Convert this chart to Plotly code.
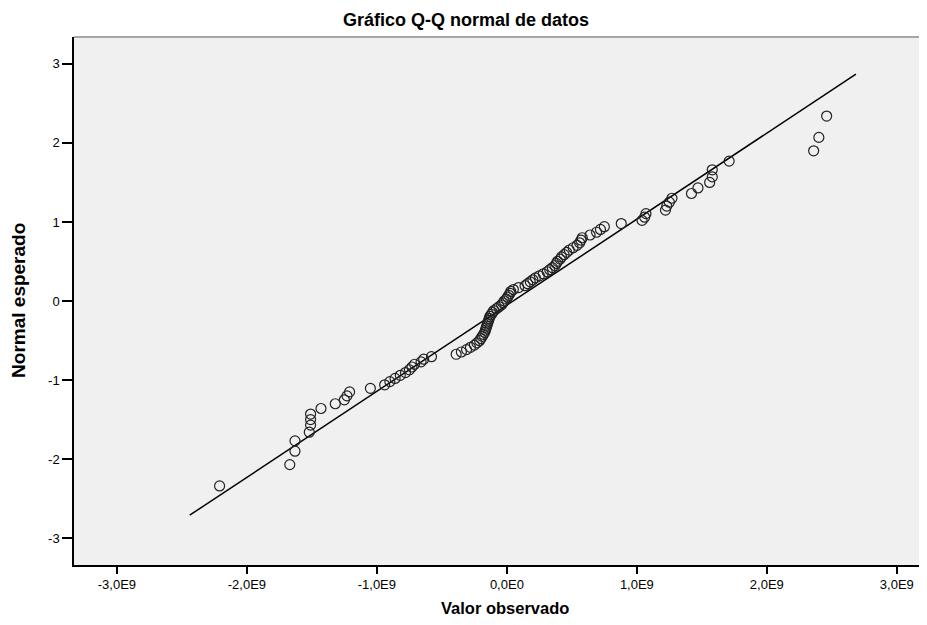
import plotly.graph_objects as go

observed_e9 = [
    -2.21, -1.67, -1.63, -1.63, -1.52, -1.51, -1.51, -1.51, -1.43, -1.32,
    -1.25, -1.23, -1.21, -1.05, -0.94, -0.90, -0.86, -0.82, -0.78, -0.75,
    -0.73, -0.71, -0.66, -0.64, -0.58, -0.39, -0.35, -0.31, -0.28, -0.25,
    -0.23, -0.21, -0.20, -0.19, -0.18, -0.17, -0.165, -0.16, -0.155, -0.15,
    -0.145, -0.14, -0.135, -0.13, -0.12, -0.11, -0.10, -0.08, -0.06, -0.04,
    -0.03, -0.02, -0.005, 0.005, 0.015, 0.025, 0.03, 0.05, 0.09, 0.14,
    0.16, 0.18, 0.20, 0.22, 0.25, 0.28, 0.31, 0.33, 0.35, 0.37,
    0.38, 0.39, 0.41, 0.42, 0.44, 0.46, 0.48, 0.51, 0.54, 0.56,
    0.57, 0.58, 0.64, 0.69, 0.72, 0.75, 0.88, 1.04, 1.06, 1.07,
    1.22, 1.23, 1.25, 1.27, 1.42, 1.47, 1.56, 1.58, 1.58, 1.71,
    2.36, 2.40, 2.46,
]
expected = [
    -2.34, -2.07, -1.90, -1.77, -1.66, -1.57, -1.50, -1.43, -1.36, -1.30,
    -1.25, -1.20, -1.15, -1.105, -1.06, -1.02, -0.98, -0.94, -0.905, -0.87,
    -0.835, -0.80, -0.77, -0.736, -0.705, -0.674, -0.645, -0.615, -0.586, -0.558,
    -0.530, -0.502, -0.475, -0.448, -0.422, -0.396, -0.370, -0.344, -0.319, -0.293,
    -0.268, -0.243, -0.219, -0.194, -0.170, -0.145, -0.121, -0.097, -0.072, -0.048,
    -0.024, 0.0, 0.024, 0.048, 0.072, 0.097, 0.121, 0.145, 0.170, 0.194,
    0.219, 0.243, 0.268, 0.293, 0.319, 0.344, 0.370, 0.396, 0.422, 0.448,
    0.475, 0.502, 0.530, 0.558, 0.586, 0.615, 0.645, 0.674, 0.705, 0.736,
    0.77, 0.80, 0.835, 0.87, 0.905, 0.94, 0.98, 1.02, 1.06, 1.105,
    1.15, 1.20, 1.25, 1.30, 1.36, 1.43, 1.50, 1.57, 1.66, 1.77,
    1.90, 2.07, 2.34,
]
line_x_e9 = [-2.44, 2.685]
line_y = [-2.71, 2.87]

x_tick_vals_e9 = [-3, -2, -1, 0, 1, 2, 3]
x_tick_text = ["-3,0E9", "-2,0E9", "-1,0E9", "0,0E0", "1,0E9", "2,0E9", "3,0E9"]
y_tick_vals = [-3, -2, -1, 0, 1, 2, 3]
y_tick_text = ["-3", "-2", "-1", "0", "1", "2", "3"]

E9 = 1e9
obs = [v * E9 for v in observed_e9]
lx = [v * E9 for v in line_x_e9]

fig = go.Figure()
fig.add_trace(go.Scatter(
    x=lx, y=line_y, mode="lines",
    line=dict(color="#000000", width=1.5), hoverinfo="skip", showlegend=False))
fig.add_trace(go.Scatter(
    x=obs, y=expected, mode="markers",
    marker=dict(symbol="circle-open", size=10, color="#222222", line=dict(width=1.2)),
    showlegend=False))

tick_font = dict(family="Liberation Sans, Arial", size=13, color="#000")

# page body has an 8px margin, so the figure is 8px smaller than the window
fig.update_layout(
    width=919, height=617,
    margin=dict(l=66, r=0, t=29, b=60, autoexpand=False),
    paper_bgcolor="#ffffff",
    plot_bgcolor="#f0f0f0",
    title=dict(text="<b>Gráfico Q-Q normal de datos</b>", x=0.4596, xref="paper",
               xanchor="center", y=0.9806, yref="container", yanchor="middle",
               font=dict(family="Liberation Sans, Arial", size=18, color="#000")),
    xaxis=dict(
        range=[-3.33 * E9, 3.232 * E9], tickvals=[v * E9 for v in x_tick_vals_e9],
        ticktext=x_tick_text, showgrid=False, zeroline=False, automargin=False,
        showline=True, linecolor="#000", linewidth=1.5,
        ticks="outside", ticklen=7, tickwidth=1.5, tickcolor="#000",
        tickfont=tick_font),
    yaxis=dict(
        range=[-3.34, 3.34], tickvals=y_tick_vals, ticktext=y_tick_text,
        showgrid=False, zeroline=False, automargin=False,
        showline=True, linecolor="#000", linewidth=1.5,
        ticks="outside", ticklen=10, tickwidth=1.5, tickcolor="#000",
        tickfont=tick_font),
    annotations=[
        dict(text="<b>Valor observado</b>", xref="paper", yref="paper",
             x=0.505, y=-0.0814, xanchor="center", yanchor="middle", showarrow=False,
             font=dict(family="Liberation Sans, Arial", size=16.5, color="#000")),
        dict(text="<b>Normal esperado</b>", xref="paper", yref="paper",
             x=-0.0645, y=0.502, xanchor="center", yanchor="middle", showarrow=False,
             textangle=-90,
             font=dict(family="Liberation Sans, Arial", size=19, color="#000")),
    ],
    shapes=[dict(type="line", xref="paper", yref="paper", x0=0, x1=1, y0=1, y1=1,
                 line=dict(color="#8c8c8c", width=1.5))],
)

fig.write_html("out.html")
